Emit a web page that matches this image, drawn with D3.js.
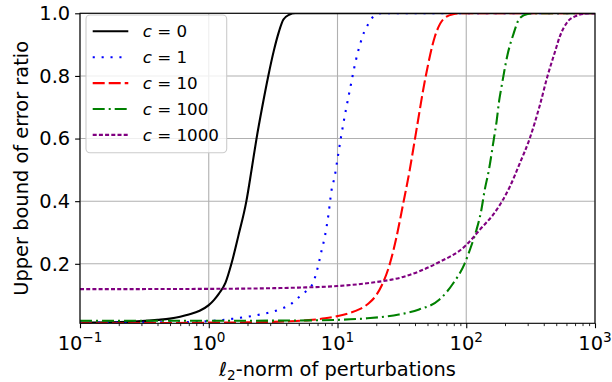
<!DOCTYPE html>
<html>
<head>
<meta charset="utf-8">
<script src="https://cdn.jsdelivr.net/npm/d3@7"></script>
<style>
  html, body { margin: 0; padding: 0; background: #fff; }
  svg { display: block; font-family: "DejaVu Sans", sans-serif; }
</style>
</head>
<body>
<main></main>
<script>
"use strict";

// values (x = l2-norm, y = upper bound of error ratio)
const c0X = [0.1, 0.2, 0.3, 0.4, 0.5, 0.6, 0.7, 0.85, 1.0, 1.1, 1.2, 1.35, 1.5, 1.7, 1.96, 2.15, 2.35, 2.6, 2.9, 3.2, 3.5, 3.8, 4.2, 4.7, 1000];
const c0Y = [0.012, 0.014, 0.017, 0.021, 0.025, 0.031, 0.038, 0.05, 0.068, 0.085, 0.105, 0.14, 0.2, 0.29, 0.4, 0.5, 0.6, 0.7, 0.8, 0.88, 0.94, 0.98, 0.995, 1.0, 1.0];

const c1X = [0.1, 0.5, 1.0, 1.5, 2.0, 2.5, 3.0, 3.7, 4.3, 4.9, 5.5, 5.9, 6.4, 7.0, 7.5, 8.0, 8.5, 9.0, 9.5, 10.0, 10.6, 11.6, 12.4, 13.1, 14.0, 15.2, 16.1, 17.3, 19.4, 22, 1000];
const c1Y = [0.012, 0.013, 0.017, 0.024, 0.031, 0.038, 0.045, 0.057, 0.07, 0.09, 0.107, 0.118, 0.135, 0.186, 0.24, 0.29, 0.356, 0.437, 0.478, 0.535, 0.6, 0.69, 0.75, 0.8, 0.856, 0.91, 0.94, 0.965, 0.993, 1.0, 1.0];

const c10X = [0.1, 0.5, 1, 2, 4, 6, 8, 10, 12.5, 15, 17.5, 20, 22, 25.5, 28.7, 32.3, 36.4, 40, 48.5, 57, 66, 79, 92, 1000];
const c10Y = [0.01, 0.011, 0.012, 0.013, 0.016, 0.02, 0.026, 0.033, 0.043, 0.056, 0.074, 0.1, 0.13, 0.2, 0.285, 0.39, 0.5, 0.6, 0.8, 0.925, 0.98, 0.997, 1.0, 1.0];

const c100X = [0.1, 1, 5, 10, 17, 30, 43, 62, 79, 97, 110, 120, 131, 139, 150, 164, 172, 180, 188, 197, 209, 231, 261, 300, 340, 1000];
const c100Y = [0.018, 0.018, 0.019, 0.021, 0.026, 0.038, 0.054, 0.086, 0.137, 0.2, 0.26, 0.308, 0.372, 0.435, 0.5, 0.6, 0.654, 0.72, 0.766, 0.813, 0.867, 0.93, 0.985, 0.998, 1.0, 1.0];

const c1000X = [0.1, 1, 5, 10, 17.8, 32.3, 58.6, 100, 127, 172, 218, 260, 311, 372, 428, 487, 532, 618, 700, 810, 1000];
const c1000Y = [0.119, 0.12, 0.124, 0.129, 0.139, 0.158, 0.201, 0.26, 0.308, 0.372, 0.446, 0.52, 0.6, 0.705, 0.8, 0.875, 0.925, 0.975, 0.99, 0.998, 1.0];

const seriesNames = ["0", "1", "10", "100", "1000"];
const xTickValues = [0.1, 1, 10, 100, 1000];
const xTickExponents = ["\u22121", "0", "1", "2", "3"];
const yTickValues = [0.2, 0.4, 0.6, 0.8, 1.0];

const svgWidth = 612;
const svgHeight = 382;
const margin = { top: 13.3, right: 17, bottom: 58.7, left: 80 };
const plotW = svgWidth - margin.left - margin.right;
const plotH = svgHeight - margin.top - margin.bottom;

const styles = [
  { color: "#000000", dash: null },
  { color: "#0000ff", dash: "2.1,6.8" },
  { color: "#ff0000", dash: "12,4" },
  { color: "#008000", dash: "12,4,2,4" },
  { color: "#800080", dash: "4,2.2" }
];

const series = [
  [c0X, c0Y], [c1X, c1Y], [c10X, c10Y], [c100X, c100Y], [c1000X, c1000Y]
].map(([xs, ys], i) => ({
  name: seriesNames[i],
  points: xs.map((x, j) => ({ x: x, y: ys[j] })),
  style: styles[i]
}));

const svg = d3.select("main")
  .append("svg")
  .attr("width", svgWidth)
  .attr("height", svgHeight);

const xScale = d3.scaleLog()
  .domain([0.1, 1000])
  .range([margin.left, margin.left + plotW]);

const yScale = d3.scaleLinear()
  .domain([0.01, 1.0])
  .range([margin.top + plotH, margin.top]);

// grid
const grid = svg.append("g").attr("stroke", "#b0b0b0").attr("stroke-width", 1.1);
grid.selectAll("line.gx")
  .data(xTickValues)
  .enter()
  .append("line")
  .attr("x1", d => xScale(d)).attr("x2", d => xScale(d))
  .attr("y1", margin.top).attr("y2", margin.top + plotH);
grid.selectAll("line.gy")
  .data(yTickValues)
  .enter()
  .append("line")
  .attr("x1", margin.left).attr("x2", margin.left + plotW)
  .attr("y1", d => yScale(d)).attr("y2", d => yScale(d));

svg.append("clipPath")
  .attr("id", "plot-clip")
  .append("rect")
  .attr("x", margin.left)
  .attr("y", margin.top)
  .attr("width", plotW)
  .attr("height", plotH);

const line = d3.line()
  .x(d => xScale(d.x))
  .y(d => yScale(d.y))
  .curve(d3.curveMonotoneX);

svg.append("g")
  .attr("clip-path", "url(#plot-clip)")
  .selectAll("path")
  .data(series)
  .enter()
  .append("path")
  .attr("d", d => line(d.points))
  .attr("fill", "none")
  .attr("stroke", d => d.style.color)
  .attr("stroke-width", 2.1)
  .attr("stroke-dasharray", d => d.style.dash);

// axes
const minorTicks = xScale.ticks().filter(t => !xTickValues.some(m => Math.abs(m - t) < 1e-9));

const xAxisMajor = d3.axisBottom(xScale)
  .tickValues(xTickValues)
  .tickSize(4.9)
  .tickFormat("");
const xAxisMinor = d3.axisBottom(xScale)
  .tickValues(minorTicks)
  .tickSize(2.8)
  .tickFormat("");

const gxMinor = svg.append("g")
  .attr("transform", `translate(0, ${margin.top + plotH})`)
  .call(xAxisMinor);
gxMinor.select(".domain").remove();
gxMinor.selectAll("line").attr("stroke-width", 0.85);

const gx = svg.append("g")
  .attr("transform", `translate(0, ${margin.top + plotH})`)
  .call(xAxisMajor);
gx.select(".domain").remove();
gx.selectAll("line").attr("stroke-width", 1.1);

const xLabels = svg.append("g")
  .selectAll("text")
  .data(xTickValues)
  .enter()
  .append("text")
  .attr("x", d => xScale(d))
  .attr("y", 350)
  .attr("text-anchor", "middle")
  .attr("font-size", "19.4px")
  .attr("fill", "#000");
xLabels.append("tspan").text("10");
xLabels.append("tspan")
  .attr("dy", -8)
  .attr("font-size", "13.6px")
  .text((d, i) => xTickExponents[i]);

const yAxis = d3.axisLeft(yScale)
  .tickValues(yTickValues)
  .tickSize(4.9)
  .tickPadding(4.9)
  .tickFormat(d3.format(".1f"));

const gy = svg.append("g")
  .attr("transform", `translate(${margin.left}, 0)`)
  .call(yAxis);
gy.select(".domain").remove();
gy.selectAll("line").attr("stroke-width", 1.1);
gy.selectAll("text")
  .attr("font-family", "DejaVu Sans")
  .attr("font-size", "19.4px")
  .attr("fill", "#000");

// frame
svg.append("rect")
  .attr("x", margin.left)
  .attr("y", margin.top)
  .attr("width", plotW)
  .attr("height", plotH)
  .attr("fill", "none")
  .attr("stroke", "#000")
  .attr("stroke-width", 1.1);

// axis labels
const xTitle = svg.append("text")
  .attr("x", margin.left + plotW / 2)
  .attr("y", 376)
  .attr("text-anchor", "middle")
  .attr("font-size", "19.4px");
xTitle.append("tspan").attr("font-style", "italic").text("\u2113");
xTitle.append("tspan").attr("dy", 4).attr("font-size", "13.6px").text("2");
xTitle.append("tspan").attr("dy", -4).text("-norm of perturbations");

svg.append("text")
  .attr("transform", `translate(28, ${margin.top + plotH / 2}) rotate(-90)`)
  .attr("text-anchor", "middle")
  .attr("font-size", "19.4px")
  .text("Upper bound of error ratio");

// legend
const legend = svg.append("g").attr("id", "legend");
legend.append("rect")
  .attr("x", 86)
  .attr("y", 15)
  .attr("width", 140.7)
  .attr("height", 137.7)
  .attr("rx", 4)
  .attr("fill", "#fff")
  .attr("fill-opacity", 0.8)
  .attr("stroke", "#cccccc")
  .attr("stroke-width", 1.1);

const rows = legend.selectAll("g.row")
  .data(series)
  .enter()
  .append("g")
  .attr("transform", (d, i) => `translate(0, ${31.3 + i * 25.9})`);
rows.append("line")
  .attr("x1", 92.7).attr("x2", 128.3)
  .attr("y1", 0).attr("y2", 0)
  .attr("stroke", d => d.style.color)
  .attr("stroke-width", 2.1)
  .attr("stroke-dasharray", d => d.style.dash);
const rowText = rows.append("text")
  .attr("x", 142.7)
  .attr("y", 6)
  .attr("font-size", "16.7px");
rowText.append("tspan").attr("font-style", "italic").text("c");
rowText.append("tspan").text(d => " = " + d.name);
</script>
</body>
</html>
